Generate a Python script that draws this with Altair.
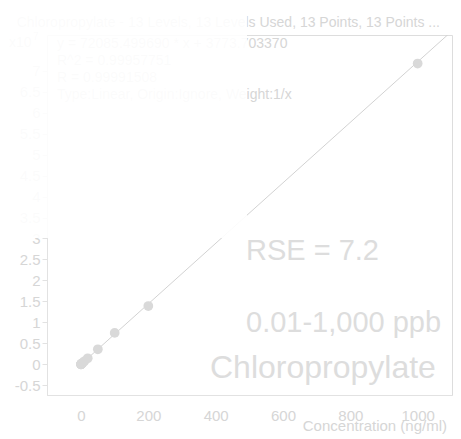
import altair as alt
import pandas as pd

# calibration levels (ng/ml) and responses (x10^7)
conc = [0.01, 0.05, 0.1, 0.5, 1, 2, 5, 10, 20, 50, 100, 200, 1000]
resp = [0.0004, 0.0007, 0.0011, 0.004, 0.0076, 0.015, 0.037, 0.073, 0.145, 0.36, 0.75, 1.39, 7.17]

# fitted calibration line end points
fit_x = [0, 1090]
fit_y = [0.0004, 7.86]

x_ticks = [0, 200, 400, 600, 800, 1000]
y_ticks = [-0.5, 0, 0.5, 1, 1.5, 2, 2.5, 3, 3.5, 4, 4.5, 5, 5.5, 6, 6.5, 7]

title_text = "Chloropropylate - 13 Levels, 13 Levels Used, 13 Points, 13 Points ..."
eq_lines = [
    "y = 72085.499690 * x  + 3773.703370",
    "R^2 = 0.99957751",
    "R = 0.99991508",
    "Type:Linear, Origin:Ignore, Weight:1/x",
]
rse_text = "RSE = 7.2"
range_text = "0.01-1,000 ppb"
name_text = "Chloropropylate"
x_title = "Concentration (ng/ml)"

FONT = "Liberation Sans"
TXT = "#d6d6d6"
BIG = "#dddddd"

pts = pd.DataFrame({"x": conc, "y": resp})
fit = pd.DataFrame({"x": fit_x, "y": fit_y})
one = pd.DataFrame({"a": [0]})

xs = alt.Scale(domain=[-101, 1102], nice=False, zero=False)
ys = alt.Scale(domain=[-0.73, 7.85], nice=False, zero=False)

xaxis = alt.Axis(values=x_ticks, labelExpr="datum.value + ''", title=None, grid=False,
                 ticks=False, labelPadding=13, domainColor="#e2e2e2", labelOverlap=False,
                 labelColor=TXT, labelFont=FONT, labelFontSize=15)
yaxis = alt.Axis(values=y_ticks, labelExpr="datum.value + ''", title=None, grid=False,
                 tickSize=5, tickColor="#e2e2e2", labelPadding=2, domainColor="#e2e2e2",
                 labelOverlap=False, labelColor=TXT, labelFont=FONT, labelFontSize=15)

line = alt.Chart(fit).mark_line(color="#d2d2d2", strokeWidth=1, clip=True).encode(
    x=alt.X("x:Q", scale=xs, axis=xaxis),
    y=alt.Y("y:Q", scale=ys, axis=yaxis),
)
points = alt.Chart(pts).mark_circle(color="#d9d9d9", opacity=1, size=95).encode(
    x=alt.X("x:Q", scale=xs, axis=xaxis), y=alt.Y("y:Q", scale=ys, axis=yaxis)
)

def txt(s, x, y, size, color=TXT, align="left"):
    return alt.Chart(one).mark_text(text=s, font=FONT, fontSize=size, color=color,
                                    align=align, baseline="alphabetic").encode(
        x=alt.value(x), y=alt.value(y))

under = [txt(title_text, 393, -8, 14, align="right"),
         txt("x10", -38, 12, 14),
         txt("7", -14, 5, 10)]
for i, s in enumerate(eq_lines):
    under.append(txt(s, 10, 13 + 17 * i, 14))

overlay = alt.Chart(one).mark_rect(color="#ffffff", opacity=0.9).encode(
    x=alt.value(-47), x2=alt.value(200), y=alt.value(-35), y2=alt.value(203))

over = [
    txt(rse_text, 199, 225, 29, BIG),
    txt(range_text, 199, 297, 29, BIG),
    txt(name_text, 163, 343, 32, BIG),
    txt(x_title, 400, 396, 15, TXT, align="right"),
]

chart = alt.layer(line, points, *under, overlay, *over).properties(
    width=405, height=360,
    autosize=alt.AutoSizeParams(type="none"),
    padding={"left": 39, "top": 27, "right": 1, "bottom": 42},
).configure_view(stroke=None).configure_axis(labelOverlap=False).configure(background="#ffffff")

chart.save("out.html", embed_options={"renderer": "svg", "actions": False})
